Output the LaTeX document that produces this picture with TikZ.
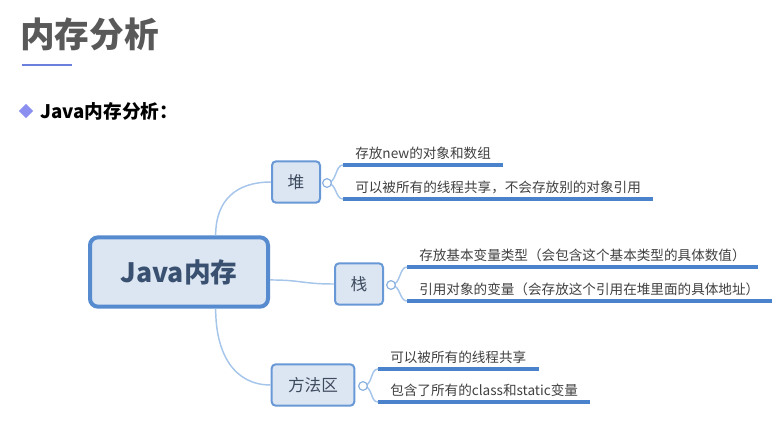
\documentclass[tikz,border=0pt]{standalone}
\usepackage{fontspec}
\setmainfont{Noto Sans CJK SC}
\usetikzlibrary{positioning,calc,shapes.geometric}
\definecolor{titleg}{RGB}{89,89,89}
\definecolor{titleb}{RGB}{107,127,220}
\definecolor{bulletc}{RGB}{139,143,240}
\definecolor{boxfill}{RGB}{220,230,242}
\definecolor{boxline}{RGB}{104,152,214}
\definecolor{rootline}{RGB}{86,139,208}
\definecolor{boxtext}{RGB}{62,74,94}
\definecolor{roottext}{RGB}{58,80,112}
\definecolor{linkc}{RGB}{166,197,234}
\definecolor{foldc}{RGB}{140,178,224}
\definecolor{ulinec}{RGB}{74,130,204}
\definecolor{leaftext}{RGB}{64,64,64}

\begin{document}
\begin{tikzpicture}[x=0.75pt,y=-0.75pt,
  topic/.style={draw=boxline,fill=boxfill,line width=1.5pt,rounded corners=3pt,
    minimum height=31pt,inner sep=0pt,text=boxtext,font=\fontsize{12.5}{14}\selectfont},
  fold/.style={circle,draw=foldc,fill=white,line width=.9pt,minimum size=6.5pt,inner sep=0pt},
  leaf/.style={anchor=south west,inner xsep=9pt,inner ysep=3.5pt,text=leaftext,
    font=\fontsize{10.2}{12}\selectfont},
  link/.style={linkc,line width=1.1pt},
  uline/.style={ulinec,line width=2.3pt}]
  \useasboundingbox (0,0) rectangle (782,429);
  \node[anchor=west,inner sep=0pt,text=titleg,font=\fontsize{26}{30}\selectfont\bfseries] (title) at (20,34) {内存分析};
  \draw[titleb,line width=2pt] (22,65) -- (72,65);
  \node[diamond,fill=bulletc,minimum size=11pt,inner sep=0pt] (bullet) at (26,111) {};
  \node[anchor=west,inner sep=0pt,font=\fontsize{14}{16}\selectfont\bfseries] (head) at (40,111) {Java内存分析：};

  \node[draw=rootline,fill=boxfill,line width=3pt,rounded corners=6pt,minimum width=133.5pt,
    minimum height=52pt,text=roottext,font=\fontsize{20}{24}\selectfont\bfseries] (root) at (179,272) {Java内存};
  \node[topic,minimum width=36pt] (heap) at (296,182) {堆};
  \node[topic,minimum width=36pt] (stack) at (359,284) {栈};
  \node[topic,minimum width=62pt] (method) at (313,385) {方法区};
  \draw[link] (root.45) .. controls +(0,-36) and +(-34,0) .. (heap.west);
  \draw[link] (root.-5) .. controls +(32,0) and +(-32,0) .. (stack.west);
  \draw[link] (root.-45) .. controls +(0,46) and +(-36,0) .. (method.west);

  \node[leaf] (h1) at (343,165) {存放new的对象和数组};
  \node[leaf] (h2) at (343,199) {可以被所有的线程共享，不会存放别的对象引用};
  \node[leaf] (s1) at (407,267) {存放基本变量类型（会包含这个基本类型的具体数值）};
  \node[leaf] (s2) at (407,301) {引用对象的变量（会存放这个引用在堆里面的具体地址）};
  \node[leaf] (m1) at (378,369) {可以被所有的线程共享};
  \node[leaf] (m2) at (378,402) {包含了所有的class和static变量};

  \coordinate (heapf) at (327,183);
  \coordinate (stackf) at (391,285);
  \coordinate (methodf) at (363,386);
  \foreach \l in {h1,h2,s1,s2,m1,m2}
    \draw[uline] (\l.south west) -- (\l.south east);
  \foreach \f/\a/\b in {heapf/h1/h2,stackf/s1/s2,methodf/m1/m2}{
    \draw[link] (\f) .. controls +(10,0) and +(-8,0) .. (\a.south west);
    \draw[link] (\f) .. controls +(10,0) and +(-8,0) .. (\b.south west);
    \node[fold] at (\f) {};
  }
\end{tikzpicture}
\end{document}
